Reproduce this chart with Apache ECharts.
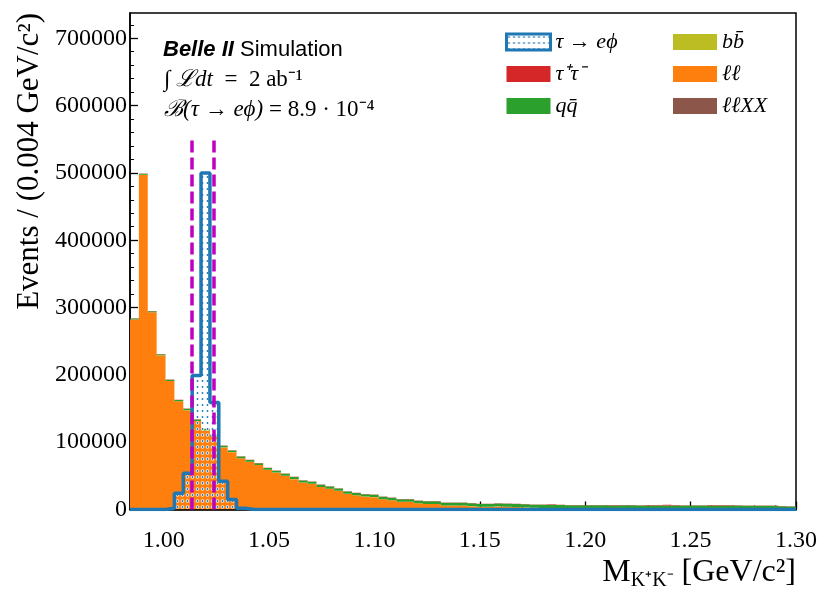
<!DOCTYPE html>
<html>
<head>
  <meta charset="utf-8" />
  <style>
    body, html { margin: 0; width: 100%; height: 100%; background: #fff; }
    #chart { width: 831px; height: 604px; }
  </style>
  <script src="https://cdn.jsdelivr.net/npm/echarts@6/dist/echarts.min.js"></script>
</head>
<body>
<div id="chart"></div>
<script>
// 75 bins between 0.984 and 1.300 GeV/c^2
const binLo = 0.984, binHi = 1.30, nBins = 75;
const edges = [];
for (let i = 0; i <= nBins; i++) edges.push(binLo + (binHi - binLo) * i / nBins);

// signal tau -> e phi
const sigVals = [0, 0, 0, 0, 2000, 24000, 54000, 199000, 500000, 159000, 42000, 15000, 2000,
  0, 0, 0, 0, 0, 0, 0, 0, 0, 0, 0, 0, 0, 0, 0, 0, 0, 0, 0, 0, 0, 0, 0, 0, 0, 0, 0, 0,
  0, 0, 0, 0, 0, 0, 0, 0, 0, 0, 0, 0, 0, 0, 0, 0, 0, 0, 0, 0, 0, 0, 0, 0, 0, 0, 0, 0,
  0, 0, 0, 0, 0, 0];

// backgrounds (bottom to top of the stack)
const llxxVals = [250, 300, 250, 250, 250, 250, 250, 250, 250, 250, 250, 250, 250, 250, 250,
  250, 250, 250, 250, 250, 250, 250, 250, 250, 250, 250, 250, 250, 250, 250, 250, 250, 250,
  250, 250, 250, 250, 250, 250, 250, 250, 250, 250, 250, 250, 250, 250, 250, 250, 250, 250,
  250, 250, 250, 250, 250, 250, 250, 250, 250, 250, 250, 250, 250, 250, 250, 250, 250, 250,
  250, 250, 250, 250, 250, 250];
const llVals = [282000, 496700, 292700, 228600, 190500, 160400, 147300, 131200, 117200, 108100,
  92000, 84900, 75800, 70700, 65700, 58600, 54500, 49900, 44800, 39700, 37700, 33100, 30500,
  27500, 22900, 20800, 18800, 18000, 15000, 13500, 11100, 11000, 8900, 7900, 7900, 5700, 5700,
  5600, 4700, 3600, 3600, 4300, 3700, 3400, 2900, 2100, 1900, 1900, 1200, 400, 300, 200, 200,
  100, 100, 100, 50, 0, 0, 0, 0, 0, 0, 0, 0, 0, 0, 0, 0, 0, 0, 0, 0, 0, 0];
const bbVals = [150, 150, 150, 150, 150, 150, 150, 150, 150, 150, 150, 150, 150, 150, 150, 150,
  150, 150, 150, 150, 150, 150, 150, 150, 150, 150, 150, 150, 150, 150, 150, 150, 150, 150, 150,
  150, 150, 150, 150, 150, 150, 150, 150, 150, 150, 150, 150, 150, 150, 150, 150, 150, 150, 150,
  150, 150, 150, 150, 150, 150, 150, 150, 150, 150, 150, 150, 150, 150, 150, 150, 150, 150, 150,
  150, 150];
const qqVals = [1200, 1500, 1500, 1600, 1700, 1800, 1900, 2000, 2000, 2100, 2200, 2300, 2400,
  2500, 2500, 2600, 2700, 2800, 2900, 3000, 3000, 3100, 3200, 3200, 3300, 3400, 3400, 3500, 3500,
  3600, 3600, 3700, 3700, 3800, 3800, 3900, 3900, 4000, 4000, 4100, 4100, 4200, 4300, 4400, 4500,
  4600, 4700, 4900, 5000, 5600, 5700, 5600, 5800, 5700, 5600, 5700, 5800, 5600, 5700, 5500, 5600,
  5600, 5500, 5600, 5500, 5400, 5500, 5400, 5500, 5300, 5200, 5200, 5000, 4500, 4200];
const tautauVals = [400, 500, 400, 400, 400, 400, 450, 400, 400, 400, 400, 400, 450, 400, 400,
  400, 450, 400, 400, 400, 500, 400, 400, 400, 450, 400, 400, 500, 400, 400, 400, 450, 400, 400,
  400, 500, 400, 400, 400, 450, 400, 400, 400, 500, 400, 400, 400, 450, 400, 400, 400, 450, 400,
  400, 400, 400, 450, 400, 400, 900, 900, 700, 400, 400, 450, 900, 800, 700, 400, 400, 450, 400,
  400, 400, 400];

// selection window and axis ticks
const cutLines = [1.0133, 1.0238];
const cutTop = 550000;
const xMajor = [1.00, 1.05, 1.10, 1.15, 1.20, 1.25, 1.30];
const xMinor = [0.99, 1.01, 1.02, 1.03, 1.04, 1.06, 1.07, 1.08, 1.09, 1.11, 1.12, 1.13, 1.14,
  1.16, 1.17, 1.18, 1.19, 1.21, 1.22, 1.23, 1.24, 1.26, 1.27, 1.28, 1.29];
const yMajor = [0, 100000, 200000, 300000, 400000, 500000, 600000, 700000];
const yMinor = [20000, 40000, 60000, 80000, 120000, 140000, 160000, 180000, 220000, 240000,
  260000, 280000, 320000, 340000, 360000, 380000, 420000, 440000, 460000, 480000, 520000,
  540000, 560000, 580000, 620000, 640000, 660000, 680000, 720000];
const yMax = 737500;

const serif = 'Liberation Serif';

function dotPattern() {
  const c = document.createElement('canvas');
  c.width = 5; c.height = 6;
  const g = c.getContext('2d');
  g.fillStyle = 'rgba(255,255,255,0.9)';
  g.beginPath(); g.arc(2.5, 3, 1.8, 0, Math.PI * 2); g.fill();
  g.fillStyle = '#1f77b4';
  g.beginPath(); g.arc(2.5, 3, 0.9, 0, Math.PI * 2); g.fill();
  return c;
}
const hatch = { image: dotPattern(), repeat: 'repeat' };

const chart = echarts.init(document.getElementById('chart'));

// histogram as step points: left edge of each bin, plus the closing right edge
function stepPoints(vals) {
  const pts = vals.map((v, i) => [edges[i], v]);
  pts.push([edges[nBins], vals[nBins - 1]]);
  return pts;
}

// one stacked layer = one step polygon between "lower" and "upper" cumulative counts
function layerSeries(name, color, lower, upper) {
  return {
    type: 'custom', name: name, z: 2, clip: true,
    itemStyle: { color: color },
    data: upper.map((u, i) => [edges[i], lower[i], u]),
    encode: { x: 0, y: [1, 2] },
    renderItem: function (params, api) {
      if (params.dataIndex !== 0) return null;
      const top = [], bot = [];
      for (let i = 0; i < nBins; i++) {
        top.push(api.coord([edges[i], upper[i]]), api.coord([edges[i + 1], upper[i]]));
        bot.push(api.coord([edges[i], lower[i]]), api.coord([edges[i + 1], lower[i]]));
      }
      return { type: 'polygon', shape: { points: top.concat(bot.reverse()) }, style: { fill: color } };
    }
  };
}

const layers = [
  ['ℓℓXX', '#8c564b', llxxVals],
  ['ℓℓ', '#ff7f0e', llVals],
  ['bb̄', '#bcbd22', bbVals],
  ['qq̄', '#2ca02c', qqVals],
  ['τ⁺τ⁻', '#d62728', tautauVals]
];
const series = [];
let lower = new Array(nBins).fill(0);
layers.forEach(([n, c, v]) => {
  const upper = lower.map((b, i) => b + v[i]);
  series.push(layerSeries(n, c, lower, upper));
  lower = upper;
});

series.push({
  type: 'line', name: 'τ → eϕ', z: 3, step: 'end', symbol: 'none', clip: true,
  data: stepPoints(sigVals),
  lineStyle: { color: '#1f77b4', width: 3.5 },
  itemStyle: { color: '#1f77b4' },
  areaStyle: { color: hatch, opacity: 1 },
  markLine: {
    silent: true, symbol: 'none', label: { show: false },
    lineStyle: { color: '#bf00bf', width: 3.5, type: [12, 5] },
    data: cutLines.map(c => [{ coord: [c, 0] }, { coord: [c, cutTop] }])
  }
});

const legendText = { fontFamily: serif, fontStyle: 'italic', fontSize: 22, color: '#000' };

chart.setOption({
  animation: false,
  grid: { left: 130, top: 13, right: 35, bottom: 94.5, show: true, borderColor: '#000', borderWidth: 1.5, backgroundColor: '#fff' },
  xAxis: [{
    type: 'value', min: binLo, max: binHi,
    axisLine: { show: true, lineStyle: { color: '#000', width: 1.5 } },
    axisTick: { inside: true, length: 8, customValues: xMajor, lineStyle: { color: '#000', width: 1.3 } },
    axisLabel: { customValues: xMajor, formatter: v => v.toFixed(2), fontFamily: serif, fontSize: 24, color: '#000', margin: 19 },
    splitLine: { show: false }
  }, {
    type: 'value', min: binLo, max: binHi, position: 'bottom',
    axisLine: { show: false },
    axisTick: { inside: true, length: 4, customValues: xMinor, lineStyle: { color: '#000', width: 1 } },
    axisLabel: { show: false },
    splitLine: { show: false }
  }],
  yAxis: [{
    type: 'value', min: 0, max: yMax,
    axisLine: { show: true, lineStyle: { color: '#000', width: 1.5 } },
    axisTick: { inside: true, length: 8, customValues: yMajor, lineStyle: { color: '#000', width: 1.3 } },
    axisLabel: { customValues: yMajor, formatter: v => String(v), fontFamily: serif, fontSize: 24, color: '#000', margin: 3 },
    splitLine: { show: false }
  }, {
    type: 'value', min: 0, max: yMax, position: 'left',
    axisLine: { show: false },
    axisTick: { inside: true, length: 4, customValues: yMinor, lineStyle: { color: '#000', width: 1 } },
    axisLabel: { show: false },
    splitLine: { show: false }
  }],
  legend: [{
    left: 500, top: 26, orient: 'vertical', itemWidth: 44, itemHeight: 16, itemGap: 10,
    textStyle: legendText,
    data: [
      { name: 'τ → eϕ', icon: 'rect', itemStyle: { color: hatch, borderColor: '#1f77b4', borderWidth: 3 } },
      { name: 'τ⁺τ⁻', icon: 'rect' },
      { name: 'qq̄', icon: 'rect' }
    ]
  }, {
    left: 668, top: 26, orient: 'vertical', itemWidth: 44, itemHeight: 16, itemGap: 10,
    textStyle: legendText,
    data: [
      { name: 'bb̄', icon: 'rect' },
      { name: 'ℓℓ', icon: 'rect' },
      { name: 'ℓℓXX', icon: 'rect' }
    ]
  }],
  graphic: [{
    type: 'text', x: 163, y: 50,
    style: {
      text: '{b|Belle II}{r| Simulation}', verticalAlign: 'middle',
      rich: {
        b: { fontFamily: 'Liberation Sans', fontWeight: 'bold', fontStyle: 'italic', fontSize: 22, fill: '#000' },
        r: { fontFamily: 'Liberation Sans', fontSize: 22, fill: '#000' }
      }
    }
  }, {
    type: 'text', x: 164, y: 80,
    style: {
      text: '{i|∫ ℒdt}{r|  =  2 ab⁻¹}', verticalAlign: 'middle',
      rich: {
        i: { fontFamily: serif, fontStyle: 'italic', fontSize: 23, fill: '#000' },
        r: { fontFamily: serif, fontSize: 23, fill: '#000' }
      }
    }
  }, {
    type: 'text', x: 164, y: 110,
    style: {
      text: '{i|ℬ(τ → eϕ)}{r| = 8.9 · 10⁻⁴}', verticalAlign: 'middle',
      rich: {
        i: { fontFamily: serif, fontStyle: 'italic', fontSize: 23, fill: '#000' },
        r: { fontFamily: serif, fontSize: 23, fill: '#000' }
      }
    }
  }, {
    type: 'text', x: 30, y: 13, rotation: Math.PI / 2,
    style: { text: 'Events / (0.004 GeV/c²)', fontFamily: serif, fontSize: 31, fill: '#000', align: 'right', verticalAlign: 'middle' }
  }, {
    type: 'text', x: 796, y: 573,
    style: {
      text: '{m|M}{s|K⁺K⁻}{m| [GeV/c²]}', align: 'right', verticalAlign: 'middle',
      rich: {
        m: { fontFamily: serif, fontSize: 32, fill: '#000', lineHeight: 36 },
        s: { fontFamily: serif, fontSize: 20, fill: '#000', lineHeight: 20, verticalAlign: 'bottom' }
      }
    }
  }],
  series: series
});
</script>
</body>
</html>
